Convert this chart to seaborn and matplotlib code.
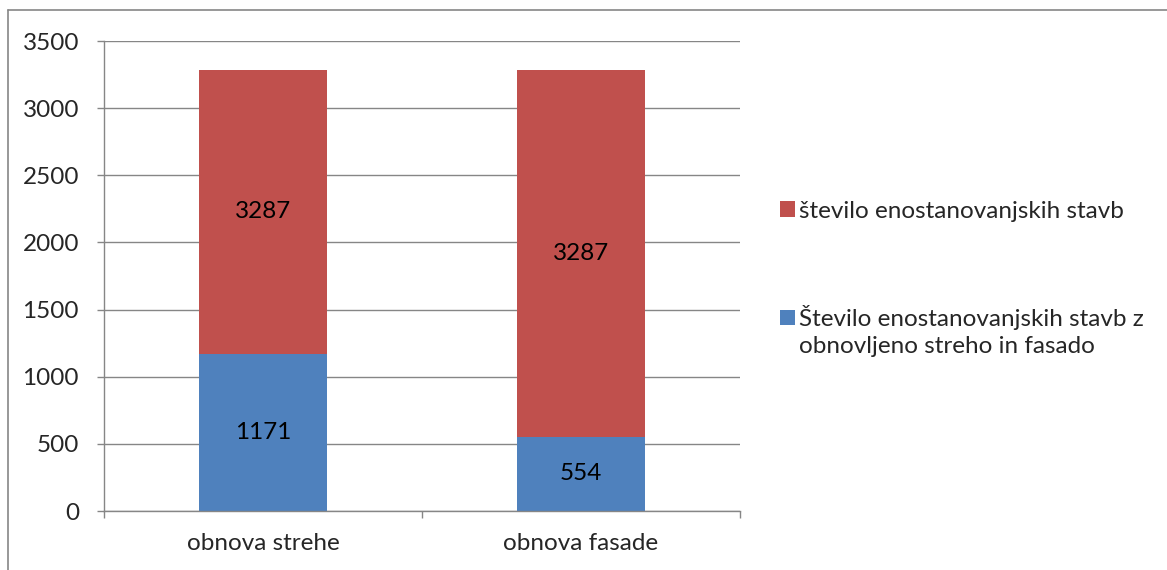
import numpy as np
import seaborn as sns
from matplotlib import pyplot as plt
from matplotlib.patches import Patch
from matplotlib.lines import Line2D

# values
categories = ["obnova strehe", "obnova fasade"]
all_houses = [3287, 3287]
renovated = [1171, 554]
series_names = ["število enostanovanjskih stavb",
                "Število enostanovanjskih stavb z\nobnovljeno streho in fasado"]
y_ticks = [0, 500, 1000, 1500, 2000, 2500, 3000, 3500]

red = "#C0504D"
blue = "#4F81BD"
grid_col = "#868686"
fs = 17.5

sns.set_theme(style="white")
plt.rcParams['font.family'] = ['Lato', 'DejaVu Sans']

fig = plt.figure(figsize=(11.67, 5.70), dpi=100)
ax = fig.add_axes([104/1167, 1-511/570, (740-104)/1167, (511-41)/570])

# red bar behind, blue bar in front (overlapped, not stacked)
sns.barplot(x=categories, y=all_houses, color=red, width=0.4, saturation=1,
            linewidth=0, edgecolor="none", ax=ax)
sns.barplot(x=categories, y=renovated, color=blue, width=0.4, saturation=1,
            linewidth=0, edgecolor="none", ax=ax)

for i in range(len(categories)):
    ax.text(i, (all_houses[i] + renovated[i]) / 2, str(all_houses[i]),
            ha="center", va="center", fontsize=fs, color="black")
    ax.text(i, renovated[i] / 2, str(renovated[i]),
            ha="center", va="center", fontsize=fs, color="black")

ax.set_xlim(-0.5, len(categories) - 0.5)
ax.set_ylim(0, 3500)
ax.set_yticks(y_ticks)
ax.set_yticklabels([str(v) for v in y_ticks], fontsize=fs)
ax.yaxis.grid(True, color=grid_col, lw=1)
ax.set_axisbelow(True)

ax.set_xticks(np.arange(-0.5, len(categories)), labels=[])
ax.set_xticks(range(len(categories)), labels=categories, minor=True, fontsize=fs)
ax.tick_params(axis="x", which="major", direction="out", length=5, width=1,
               color=grid_col, bottom=True)
ax.tick_params(axis="x", which="minor", length=0, pad=16)
ax.tick_params(axis="y", direction="out", length=5, width=1, color=grid_col,
               left=True, pad=13)

for s in ["top", "right"]:
    ax.spines[s].set_visible(False)
for s in ["left", "bottom"]:
    ax.spines[s].set_color(grid_col)
    ax.spines[s].set_linewidth(1)
ax.set_xlabel("")
ax.set_ylabel("")

# legend: two blocks so the blue box sits on the first text line
name2_lines = series_names[1].split("\n")
leg1 = fig.legend(handles=[Patch(facecolor=red, edgecolor="none")],
                  labels=[series_names[0]],
                  loc="center left", bbox_to_anchor=(780/1167, 1-211/570),
                  frameon=False, fontsize=fs, handlelength=0.6, handleheight=0.6,
                  handletextpad=0.2, borderpad=0, borderaxespad=0)
leg2 = fig.legend(handles=[Patch(facecolor=blue, edgecolor="none"),
                           Patch(facecolor="none", edgecolor="none")],
                  labels=name2_lines,
                  loc="center left", bbox_to_anchor=(780/1167, 1-331/570),
                  frameon=False, fontsize=fs, handlelength=0.6, handleheight=0.6,
                  handletextpad=0.2, borderpad=0, borderaxespad=0, labelspacing=0.25)

# chart area border (only left and top visible)
fig.add_artist(Line2D([8/1167, 8/1167], [0, 1-10/570], color=grid_col, lw=1.2,
                      transform=fig.transFigure))
fig.add_artist(Line2D([8/1167, 1], [1-10/570, 1-10/570], color=grid_col, lw=1.2,
                      transform=fig.transFigure))

fig.savefig("out.png", dpi=100)
